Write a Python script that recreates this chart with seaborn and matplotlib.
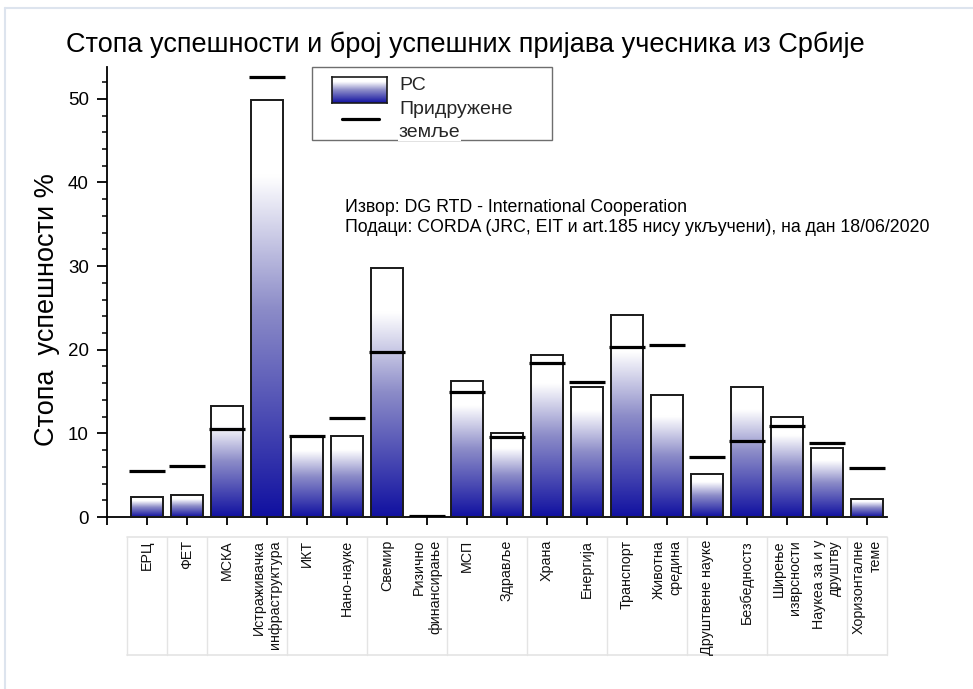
import numpy as np
import pandas as pd
import matplotlib
matplotlib.use("Agg")
import matplotlib.pyplot as plt
import seaborn as sns
from matplotlib.colors import LinearSegmentedColormap
from matplotlib.lines import Line2D
from matplotlib.patches import Rectangle
from matplotlib.ticker import MultipleLocator
import matplotlib.transforms as mtransforms

# Research areas (Horizon 2020 programme parts)
categories = [
    "ЕРЦ", "ФЕТ", "МСКА", "Истраживачка\nинфраструктура", "ИКТ", "Нано-науке",
    "Свемир", "Ризично\nфинансирање", "МСП", "Здравље", "Храна", "Енергија",
    "Транспорт", "Животна\nсредина", "Друштвене науке", "Безбедностз",
    "Ширење\nизврсности", "Наукеа за и у\nдруштву", "Хоризонталне\nтеме",
]
# Success rate, Serbia (%)
rs_values = [2.35, 2.6, 13.3, 49.8, 9.6, 9.7, 29.8, 0.1, 16.25, 10.0, 19.4,
             15.5, 24.1, 14.6, 5.1, 15.6, 11.9, 8.2, 2.2]
# Success rate, associated countries (%)
assoc_values = [5.45, 6.1, 10.5, 52.6, 9.7, 11.8, 19.7, 0.15, 14.95, 9.55, 18.4,
                16.1, 20.3, 20.6, 7.2, 9.05, 10.85, 8.85, 5.9]
y_ticks = [0, 10, 20, 30, 40, 50]

W, H = 973, 689
FONT = ["Liberation Sans", "DejaVu Sans"]

sns.set_theme(style="white")
plt.rcParams["font.family"] = FONT

def fx(px):
    return px / W

def fy(py):
    return 1 - py / H

fig = plt.figure(figsize=(W / 100, H / 100), dpi=100)
fig.patch.set_facecolor("white")
ax = fig.add_axes([fx(107), fy(517), fx(887) - fx(107), fy(67) - fy(517)])
ax.set_facecolor("white")

df = pd.DataFrame({"area": categories, "rs": rs_values, "assoc": assoc_values})
sns.barplot(data=df, x="area", y="rs", order=categories, width=0.8,
            facecolor="none", edgecolor="#1a1a1a", linewidth=1.4, ax=ax, zorder=3)

# vertical blue-to-white gradient inside every bar
grad_cmap = LinearSegmentedColormap.from_list(
    "rs_grad", [(0.0, "#1010a0"), (0.5, "#8c8cc8"), (0.82, "#ffffff"), (1.0, "#ffffff")])
grad = np.linspace(0, 1, 256).reshape(-1, 1)
for patch in ax.patches:
    x0, w, h = patch.get_x(), patch.get_width(), patch.get_height()
    if h <= 0:
        continue
    im = ax.imshow(grad, cmap=grad_cmap, origin="lower", aspect="auto",
                   extent=[x0, x0 + w, 0, h], zorder=2, interpolation="bilinear")
    im.set_clip_path(patch)

# associated countries as horizontal markers
pos = np.arange(len(categories))
ax.hlines(df["assoc"], pos - 0.46, pos + 0.46, colors="black", linewidth=2.3, zorder=4)

ax.set_xlim(-1, len(categories) - 0.5)
ax.set_ylim(0, 53.8)
ax.set_xticks(np.arange(-1, len(categories)))
ax.set_xticklabels([])
ax.set_yticks(y_ticks)
ax.set_yticklabels([str(t) for t in y_ticks], fontsize=13.5)
ax.yaxis.set_minor_locator(MultipleLocator(2))
ax.set_xlabel("")
ax.set_ylabel("")
for side in ("top", "right"):
    ax.spines[side].set_visible(False)
for side in ("left", "bottom"):
    ax.spines[side].set_color("black")
    ax.spines[side].set_linewidth(1.3)
ax.tick_params(axis="x", which="major", direction="out", length=6, width=1.3,
               color="black", bottom=True)
ax.tick_params(axis="y", which="major", direction="out", length=7, width=1.3,
               color="black", left=True, pad=6, labelcolor="black")
ax.tick_params(axis="y", which="minor", direction="out", length=3.5, width=1.1,
               color="black", left=True)

# category labels in a boxed strip under the axis
blend = mtransforms.blended_transform_factory(ax.transData, fig.transFigure)
for i, lab in enumerate(categories):
    fig.text(i, fy(540), lab, transform=blend, rotation=90, ha="center", va="top",
             multialignment="right", fontsize=10.3, color="#111111", linespacing=1.25)
group_edges = [-0.5, 0.5, 1.5, 3.5, 5.5, 7.5, 9.5, 11.5, 13.5, 15.5, 17.5, 18.5]
for xe in group_edges:
    fig.add_artist(Line2D([xe, xe], [fy(537), fy(655)], transform=blend,
                          color="#e4e4e4", linewidth=1))
for yl in (537, 655):
    fig.add_artist(Line2D([-0.5, 18.5], [fy(yl), fy(yl)], transform=blend,
                          color="#e4e4e4", linewidth=1.2))

# titles
fig.text(fx(465), fy(45), "Стопа успешности и број успешних пријава учесника из Србије",
         ha="center", va="center", fontsize=19.5, color="black")
fig.text(fx(47), fy(310), "Стопа  успешности %", rotation=90, ha="center", va="center",
         fontsize=19.5, color="black")

# source note
fig.text(fx(345), fy(207), "Извор: DG RTD - International Cooperation",
         ha="left", va="center", fontsize=12.8, color="black")
fig.text(fx(345), fy(228),
         "Подаци: CORDA (JRC, EIT и art.185 нису укључени), на дан 18/06/2020",
         ha="left", va="center", fontsize=12.8, color="black")

# legend
fig.add_artist(Rectangle((fx(312), fy(140)), fx(552) - fx(312), fy(67) - fy(140),
                         transform=fig.transFigure, facecolor="white",
                         edgecolor="#6e6e6e", linewidth=1.0, zorder=5))
sw = fig.add_axes([fx(332), fy(103), fx(387) - fx(332), fy(77) - fy(103)], zorder=6)
sw.imshow(grad, cmap=grad_cmap.reversed(), aspect="auto", interpolation="bilinear")
sw.set_xticks([])
sw.set_yticks([])
for s in sw.spines.values():
    s.set_color("#1a1a1a")
    s.set_linewidth(1.2)
fig.add_artist(Line2D([fx(342), fx(379)], [fy(119), fy(119)], transform=fig.transFigure,
                      color="black", linewidth=2.3, zorder=7))
fig.text(fx(399), fy(85), "РС", ha="left", va="center", fontsize=14, zorder=7)
fig.text(fx(399), fy(109), "Придружене", ha="left", va="center", fontsize=14, zorder=7)
fig.text(fx(399), fy(132), "земље", ha="left", va="center", fontsize=14, zorder=7,
         bbox=dict(facecolor="white", edgecolor="none", pad=0.5))

# page frame
fig.add_artist(Line2D([fx(5), 1], [fy(8), fy(8)], transform=fig.transFigure,
                      color="#dde4ee", linewidth=1.5))
fig.add_artist(Line2D([fx(5), fx(5)], [fy(8), 0], transform=fig.transFigure,
                      color="#dde4ee", linewidth=1.5))

fig.savefig("out.png", dpi=100, facecolor="white")
